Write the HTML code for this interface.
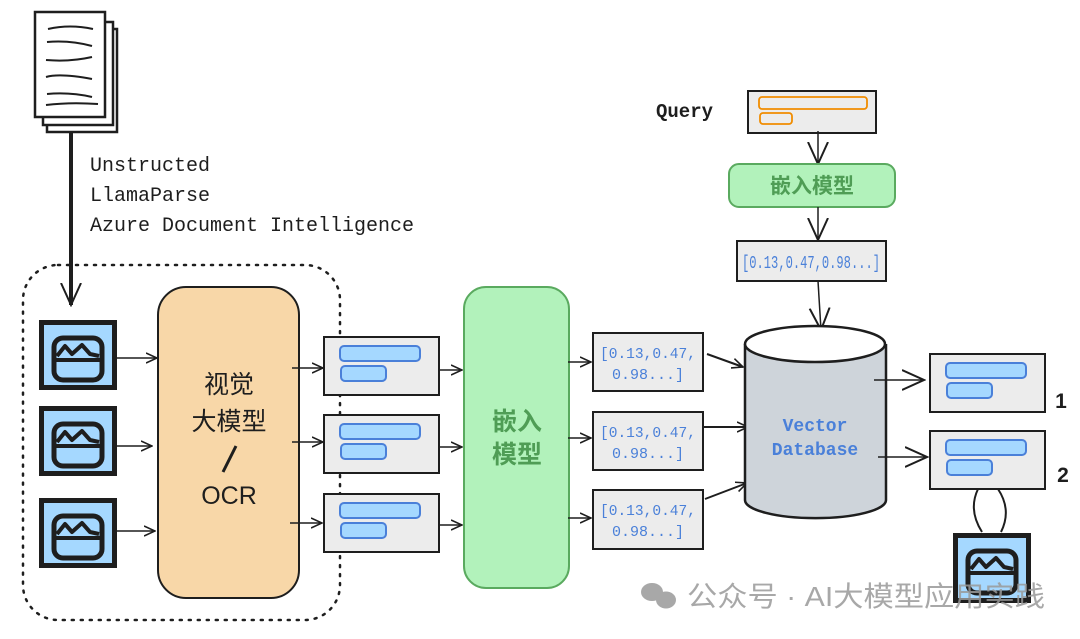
<!DOCTYPE html>
<html><head><meta charset="utf-8"><style>
html,body{margin:0;padding:0;background:#fff;width:1080px;height:639px;overflow:hidden}
svg{display:block}
.m{font-family:"Liberation Mono",monospace}
.c{font-family:"Liberation Sans","Noto Sans CJK SC",sans-serif}
</style></head><body>
<svg width="1080" height="639" viewBox="0 0 1080 639" xmlns="http://www.w3.org/2000/svg">
<defs>
<g id="img">
<rect x="2.5" y="2.5" width="73" height="65" fill="#a5d8ff" stroke="#1e1e1e" stroke-width="5"/>
<rect x="15" y="18" width="48" height="42" rx="9" fill="none" stroke="#1e1e1e" stroke-width="5"/>
<line x1="16" y1="40" x2="62" y2="40" stroke="#1e1e1e" stroke-width="4"/>
<path d="M18 36 L26 26 L33 34 L43 25 L51 34 L60 36" fill="none" stroke="#1e1e1e" stroke-width="4" stroke-linejoin="round"/>
</g>
<g id="doc">
<rect x="0" y="0" width="115" height="58" fill="#ececec" stroke="#1e1e1e" stroke-width="2"/>
<rect x="16" y="9" width="80" height="15" rx="4" fill="#a5d8ff" stroke="#4a80d9" stroke-width="2"/>
<rect x="17" y="29" width="45" height="15" rx="4" fill="#a5d8ff" stroke="#4a80d9" stroke-width="2"/>
</g>
<marker id="ar" viewBox="0 0 12 12" refX="11" refY="6" markerWidth="12" markerHeight="12" markerUnits="userSpaceOnUse" orient="auto">
<path d="M0 1 L11 6 L0 11" fill="none" stroke="#1e1e1e" stroke-width="1.6"/>
</marker>
<marker id="arL" viewBox="0 0 24 24" refX="22" refY="12" markerWidth="24" markerHeight="24" markerUnits="userSpaceOnUse" orient="auto">
<path d="M0 2 L22 12 L0 22" fill="none" stroke="#1e1e1e" stroke-width="2"/>
</marker>
</defs>

<rect x="47" y="29" width="70" height="103" fill="#fff" stroke="#1e1e1e" stroke-width="2.5"/>
<rect x="43" y="22" width="70" height="103" fill="#fff" stroke="#1e1e1e" stroke-width="2.5"/>
<rect x="35" y="12" width="70" height="105" fill="#fff" stroke="#1e1e1e" stroke-width="2.5"/>
<g stroke="#1e1e1e" stroke-width="2" fill="none">
<path d="M48 29 Q70 24 93 29"/><path d="M47 42 Q70 40 92 46"/><path d="M46 60 Q70 62 92 57"/>
<path d="M46 77 Q60 73 92 79"/><path d="M47 94 Q70 92 92 97"/><path d="M46 105 Q70 102 98 104"/>
</g>
<line x1="71" y1="132" x2="71" y2="305" stroke="#1e1e1e" stroke-width="4" marker-end="url(#arL)"/>
<text class="m" x="90" y="171" font-size="20" fill="#1e1e1e">Unstructed</text>
<text class="m" x="90" y="201" font-size="20" fill="#1e1e1e">LlamaParse</text>
<text class="m" x="90" y="231" font-size="20" fill="#1e1e1e">Azure Document Intelligence</text>

<rect x="23" y="265" width="317" height="355" rx="35" fill="none" stroke="#1e1e1e" stroke-width="2.5" stroke-dasharray="2 7" stroke-linecap="round"/>

<use href="#img" x="39" y="320"/>
<use href="#img" x="39" y="406"/>
<use href="#img" x="39" y="498"/>
<line x1="117" y1="358" x2="157" y2="358" stroke="#1e1e1e" stroke-width="1.5" marker-end="url(#ar)"/>
<line x1="117" y1="446" x2="152" y2="446" stroke="#1e1e1e" stroke-width="1.5" marker-end="url(#ar)"/>
<line x1="117" y1="531" x2="155" y2="531" stroke="#1e1e1e" stroke-width="1.5" marker-end="url(#ar)"/>

<rect x="158" y="287" width="141" height="311" rx="28" fill="#f8d7a8" stroke="#1e1e1e" stroke-width="2"/>
<text class="c" x="229" y="393" font-size="25" text-anchor="middle" fill="#1e1e1e">视觉</text>
<text class="c" x="229" y="430" font-size="25" text-anchor="middle" fill="#1e1e1e">大模型</text>
<line x1="236" y1="446" x2="223" y2="472" stroke="#1e1e1e" stroke-width="3"/>
<text class="c" x="229" y="504" font-size="25" text-anchor="middle" fill="#1e1e1e">OCR</text>

<line x1="292" y1="368" x2="323" y2="368" stroke="#1e1e1e" stroke-width="1.5" marker-end="url(#ar)"/>
<line x1="292" y1="442" x2="323" y2="442" stroke="#1e1e1e" stroke-width="1.5" marker-end="url(#ar)"/>
<line x1="290" y1="523" x2="322" y2="523" stroke="#1e1e1e" stroke-width="1.5" marker-end="url(#ar)"/>
<use href="#doc" x="324" y="337"/>
<use href="#doc" x="324" y="415"/>
<use href="#doc" x="324" y="494"/>
<line x1="439" y1="370" x2="462" y2="370" stroke="#1e1e1e" stroke-width="1.5" marker-end="url(#ar)"/>
<line x1="439" y1="447" x2="462" y2="447" stroke="#1e1e1e" stroke-width="1.5" marker-end="url(#ar)"/>
<line x1="439" y1="525" x2="462" y2="525" stroke="#1e1e1e" stroke-width="1.5" marker-end="url(#ar)"/>

<rect x="464" y="287" width="105" height="301" rx="22" fill="#b2f2bb" stroke="#5aaa5f" stroke-width="2"/>
<text class="c" x="517" y="430" font-size="25" text-anchor="middle" fill="#4f9d55" font-weight="bold">嵌入</text>
<text class="c" x="517" y="463" font-size="25" text-anchor="middle" fill="#4f9d55" font-weight="bold">模型</text>

<line x1="568" y1="362" x2="591" y2="362" stroke="#1e1e1e" stroke-width="1.5" marker-end="url(#ar)"/>
<line x1="568" y1="438" x2="591" y2="438" stroke="#1e1e1e" stroke-width="1.5" marker-end="url(#ar)"/>
<line x1="568" y1="518" x2="591" y2="518" stroke="#1e1e1e" stroke-width="1.5" marker-end="url(#ar)"/>
<g fill="#ececec" stroke="#1e1e1e" stroke-width="2">
<rect x="593" y="333" width="110" height="58"/>
<rect x="593" y="412" width="110" height="58"/>
<rect x="593" y="490" width="110" height="59"/>
</g>
<g class="m" font-size="15" fill="#4a80d9" text-anchor="middle">
<text x="648" y="358" textLength="96" lengthAdjust="spacingAndGlyphs">[0.13,0.47,</text><text x="648" y="379">0.98...]</text>
<text x="648" y="437" textLength="96" lengthAdjust="spacingAndGlyphs">[0.13,0.47,</text><text x="648" y="458">0.98...]</text>
<text x="648" y="515" textLength="96" lengthAdjust="spacingAndGlyphs">[0.13,0.47,</text><text x="648" y="536">0.98...]</text>
</g>
<line x1="707" y1="354" x2="743" y2="367" stroke="#1e1e1e" stroke-width="2" marker-end="url(#ar)"/>
<line x1="703" y1="427" x2="748" y2="427" stroke="#1e1e1e" stroke-width="2" marker-end="url(#ar)"/>
<line x1="705" y1="499" x2="747" y2="483" stroke="#1e1e1e" stroke-width="2" marker-end="url(#ar)"/>

<text class="m" x="656" y="117" font-size="19" fill="#1e1e1e" font-weight="bold">Query</text>
<rect x="748" y="91" width="128" height="42" fill="#ececec" stroke="#1e1e1e" stroke-width="2"/>
<rect x="759" y="97" width="108" height="12" rx="3" fill="none" stroke="#f08c00" stroke-width="1.8"/>
<rect x="760" y="113" width="32" height="11" rx="3" fill="none" stroke="#f08c00" stroke-width="1.8"/>
<line x1="818" y1="131" x2="818" y2="164" stroke="#1e1e1e" stroke-width="1.5" marker-end="url(#arL)"/>
<rect x="729" y="164" width="166" height="43" rx="10" fill="#b2f2bb" stroke="#5aaa5f" stroke-width="2"/>
<text class="c" x="812" y="193" font-size="21" text-anchor="middle" fill="#4f9d55" font-weight="bold">嵌入模型</text>
<line x1="818" y1="207" x2="818" y2="240" stroke="#1e1e1e" stroke-width="1.5" marker-end="url(#arL)"/>
<rect x="737" y="241" width="149" height="40" fill="#ececec" stroke="#1e1e1e" stroke-width="2"/>
<text class="m" x="811" y="268" font-size="18" text-anchor="middle" fill="#4a80d9" textLength="138" lengthAdjust="spacingAndGlyphs">[0.13,0.47,0.98...]</text>
<line x1="818" y1="281" x2="821" y2="330" stroke="#1e1e1e" stroke-width="1.5" marker-end="url(#arL)"/>

<path d="M745 344 L745 500 A70 18 0 0 0 886 500 L886 344" fill="#ced4da" stroke="#1e1e1e" stroke-width="2.5"/>
<ellipse cx="815" cy="344" rx="70" ry="18" fill="#fff" stroke="#1e1e1e" stroke-width="2.5"/>
<text class="m" x="815" y="431" font-size="18" text-anchor="middle" fill="#4a80d9" font-weight="bold">Vector</text>
<text class="m" x="815" y="455" font-size="18" text-anchor="middle" fill="#4a80d9" font-weight="bold">Database</text>

<line x1="874" y1="380" x2="924" y2="380" stroke="#1e1e1e" stroke-width="1.5" marker-end="url(#arL)"/>
<line x1="878" y1="457" x2="927" y2="457" stroke="#1e1e1e" stroke-width="1.5" marker-end="url(#arL)"/>
<use href="#doc" x="930" y="354"/>
<use href="#doc" x="930" y="431"/>
<text class="c" x="1061" y="408" font-size="21" text-anchor="middle" fill="#1e1e1e" font-weight="bold">1</text>
<text class="c" x="1063" y="482" font-size="21" text-anchor="middle" fill="#1e1e1e" font-weight="bold">2</text>
<path d="M978 489 Q968 510 982 532 M998 489 Q1012 510 1001 532" fill="none" stroke="#1e1e1e" stroke-width="2"/>
<use href="#img" x="953" y="533"/>

<g fill="#9a9a9a" opacity="0.85">
<ellipse cx="652" cy="592" rx="11" ry="9"/>
<ellipse cx="666" cy="600" rx="10" ry="8.5"/>
</g>
<text class="c" x="687" y="606" font-size="28" fill="#9a9a9a" opacity="0.85" textLength="358" lengthAdjust="spacingAndGlyphs">公众号 · AI大模型应用实践</text>
</svg>
</body></html>
